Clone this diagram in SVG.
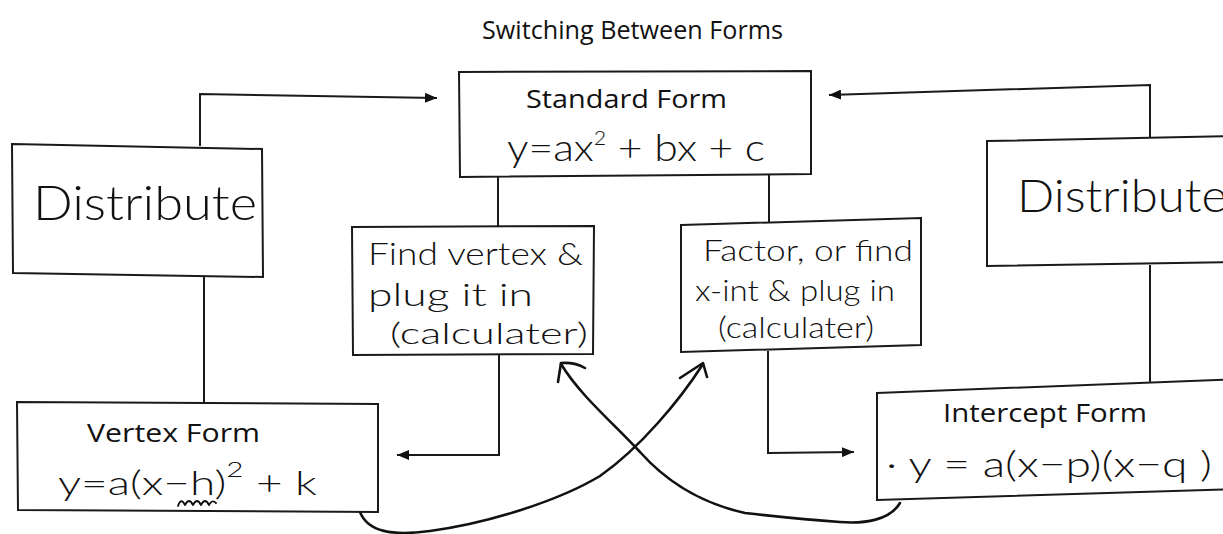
<svg xmlns="http://www.w3.org/2000/svg" width="1223" height="534" viewBox="0 0 1223 534">
<defs>
<style>
.box{fill:#fff;stroke:#1a1a1a;stroke-width:2}
.typed{font-family:"Open Sans","Liberation Sans",sans-serif;font-weight:400;fill:#111;font-size:26px}
.hand{font-family:Lato,"Liberation Sans",sans-serif;font-weight:300;fill:#111}
.conn{fill:none;stroke:#1a1a1a;stroke-width:2}
.curve{fill:none;stroke:#111;stroke-width:2.6;stroke-linecap:round;stroke-linejoin:round}
</style>
<marker id="ah" viewBox="0 0 12 10" refX="12" refY="5" markerWidth="12" markerHeight="10" markerUnits="userSpaceOnUse" orient="auto">
<path d="M0,0 L12,5 L0,10 Z" fill="#111"/>
</marker>
</defs>
<rect width="1223" height="534" fill="#fff"/>
<text class="typed" x="482" y="39" font-size="23" textLength="301" lengthAdjust="spacingAndGlyphs">Switching Between Forms</text>

<g id="connectors">
<path class="conn" d="M200,146 V94 L437,98" marker-end="url(#ah)"/>
<path class="conn" d="M1150,137 V85 L829,95" marker-end="url(#ah)"/>
<path class="conn" d="M498,177 V227"/>
<path class="conn" d="M769,175 V224"/>
<path class="conn" d="M204,275 V402"/>
<path class="conn" d="M1150,265 V383"/>
<path class="conn" d="M499,354 V455 H397" marker-end="url(#ah)"/>
<path class="conn" d="M768,351 V453 L854,452" marker-end="url(#ah)"/>
<path class="curve" d="M360,512 C368,532 392,536 430,531 C490,523 560,500 600,476 C640,448 680,400 703,364"/>
<path class="curve" d="M680,378 L703,363 L707,377"/>
<path class="curve" d="M900,503 C890,520 865,524 840,522 C810,520 780,517 745,513 C700,503 665,480 640,452 C610,420 580,395 561,364"/>
<path class="curve" d="M558,382 L561,363 Q575,362 585,368"/>
</g>

<g id="standard">
<polygon class="box" points="459,72 811,71 811,174 460,177"/>
<text class="typed" x="526" y="108" font-size="26" textLength="201" lengthAdjust="spacingAndGlyphs">Standard Form</text>
<text class="hand" x="507" y="161" font-size="38" textLength="258" lengthAdjust="spacingAndGlyphs">y=ax<tspan dy="-16" font-size="19">2</tspan><tspan dy="16"> + bx + c</tspan></text>
</g>

<g id="distribute-left">
<polygon class="box" points="12,144 262,149 263,277 13,273"/>
<text class="hand" x="33" y="220" font-size="48" textLength="224" lengthAdjust="spacingAndGlyphs">Distribute</text>
</g>

<g id="distribute-right">
<polygon class="box" points="987,141 1240,136 1240,262 987,266"/>
<text class="hand" x="1017" y="212" font-size="46" textLength="210" lengthAdjust="spacingAndGlyphs">Distribute</text>
</g>

<g id="find-vertex">
<polygon class="box" points="352,227 594,226 593,354 353,355"/>
<text class="hand" x="368" y="265" font-size="32" textLength="215" lengthAdjust="spacingAndGlyphs">Find vertex &amp;</text>
<text class="hand" x="368" y="306" font-size="32" textLength="165" lengthAdjust="spacingAndGlyphs">plug it in</text>
<text class="hand" x="390" y="344" font-size="30" textLength="198" lengthAdjust="spacingAndGlyphs">(calculater)</text>
</g>

<g id="factor">
<polygon class="box" points="681,225 921,218 921,345 681,352"/>
<text class="hand" x="703" y="261" font-size="29" textLength="210" lengthAdjust="spacingAndGlyphs">Factor, or find</text>
<text class="hand" x="695" y="301" font-size="29" textLength="200" lengthAdjust="spacingAndGlyphs">x-int &amp; plug in</text>
<text class="hand" x="718" y="338" font-size="29" textLength="156" lengthAdjust="spacingAndGlyphs">(calculater)</text>
</g>

<g id="vertex">
<polygon class="box" points="17,402 378,404 378,512 18,510"/>
<text class="typed" x="87" y="442" font-size="26" textLength="173" lengthAdjust="spacingAndGlyphs">Vertex Form</text>
<text class="hand" x="58" y="495" font-size="34" textLength="259" lengthAdjust="spacingAndGlyphs">y=a(x−h)<tspan dy="-18" font-size="22">2</tspan><tspan dy="18"> + k</tspan></text>
<path class="curve" style="stroke-width:1.8" d="M178,506 Q181,497 185,505 Q189,497 193,505 Q197,497 201,505 Q205,497 209,505 Q212,499 216,503"/>
</g>

<g id="intercept">
<polygon class="box" points="877,393 1240,379 1240,489 877,500"/>
<text class="typed" x="943" y="422" font-size="26" textLength="204" lengthAdjust="spacingAndGlyphs">Intercept Form</text>
<text class="hand" x="886" y="477" font-size="36" textLength="326" lengthAdjust="spacingAndGlyphs">· y = a(x−p)(x−q )</text>
</g>
</svg>
